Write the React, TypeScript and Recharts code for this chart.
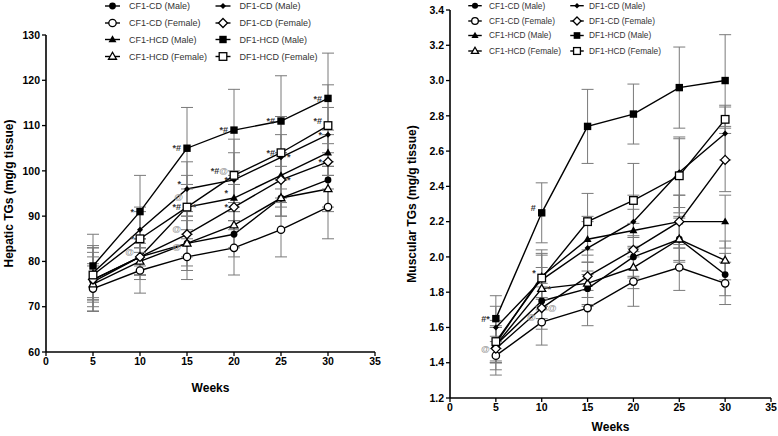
import React from 'react';
import { LineChart, Line, XAxis, YAxis, ErrorBar, Legend } from 'recharts';

const weeks = [5, 10, 15, 20, 25, 30];
const xTicks = [0, 5, 10, 15, 20, 25, 30, 35];
const hepaticTicks = [60, 70, 80, 90, 100, 110, 120, 130];
const muscularTicks = [1.2, 1.4, 1.6, 1.8, 2.0, 2.2, 2.4, 2.6, 2.8, 3.0, 3.2, 3.4];

const seriesNames = [
  'CF1-CD (Male)', 'CF1-CD (Female)', 'CF1-HCD (Male)', 'CF1-HCD (Female)',
  'DF1-CD (Male)', 'DF1-CD (Female)', 'DF1-HCD (Male)', 'DF1-HCD (Female)',
];
const seriesMarkers = [
  'circleFilled', 'circleOpen', 'triangleFilled', 'triangleOpen',
  'smallDiamond', 'diamondOpen', 'squareFilled', 'squareOpen',
];

// Hepatic TGs (mg/g tissue)
const hepCF1CDMale = [75.5, 81, 84, 86, 94, 98];
const hepCF1CDFemale = [74, 78, 81, 83, 87, 92];
const hepCF1HCDMale = [76, 81, 92, 94, 99, 104];
const hepCF1HCDFemale = [75, 80, 84, 88, 94, 96];
const hepDF1CDMale = [77.5, 87, 96, 98, 103, 108];
const hepDF1CDFemale = [76, 81, 86, 92, 98, 102];
const hepDF1HCDMale = [79, 91, 105, 109, 111, 116];
const hepDF1HCDFemale = [77, 85, 92, 99, 104, 110];

const hepErrCF1CDMale = [4, 4, 5, 5, 4, 6];
const hepErrCF1CDFemale = [5, 5, 5, 6, 6, 7];
const hepErrCF1HCDMale = [6, 4, 5, 5, 5, 5];
const hepErrCF1HCDFemale = [6, 4, 6, 5, 4, 5];
const hepErrDF1CDMale = [6, 5, 6, 6, 5, 6];
const hepErrDF1CDFemale = [7, 4, 5, 5, 6, 6];
const hepErrDF1HCDMale = [7, 8, 9, 9, 10, 10];
const hepErrDF1HCDFemale = [6, 6, 7, 8, 8, 9];

// Muscular TGs (mg/g tissue)
const musCF1CDMale = [1.5, 1.75, 1.82, 2.0, 2.1, 1.9];
const musCF1CDFemale = [1.44, 1.63, 1.71, 1.86, 1.94, 1.85];
const musCF1HCDMale = [1.51, 1.89, 2.1, 2.15, 2.2, 2.2];
const musCF1HCDFemale = [1.5, 1.82, 1.85, 1.94, 2.1, 1.98];
const musDF1CDMale = [1.6, 1.87, 2.05, 2.2, 2.48, 2.7];
const musDF1CDFemale = [1.48, 1.71, 1.89, 2.04, 2.2, 2.55];
const musDF1HCDMale = [1.65, 2.25, 2.74, 2.81, 2.96, 3.0];
const musDF1HCDFemale = [1.52, 1.88, 2.2, 2.32, 2.46, 2.78];

const musErrCF1CDMale = [0.1, 0.1, 0.1, 0.12, 0.12, 0.12];
const musErrCF1CDFemale = [0.11, 0.13, 0.1, 0.14, 0.13, 0.12];
const musErrCF1HCDMale = [0.1, 0.12, 0.13, 0.12, 0.15, 0.15];
const musErrCF1HCDFemale = [0.1, 0.12, 0.12, 0.12, 0.13, 0.11];
const musErrDF1CDMale = [0.12, 0.15, 0.15, 0.15, 0.2, 0.15];
const musErrDF1CDFemale = [0.12, 0.12, 0.12, 0.15, 0.15, 0.18];
const musErrDF1HCDMale = [0.13, 0.17, 0.21, 0.17, 0.23, 0.26];
const musErrDF1HCDFemale = [0.12, 0.16, 0.16, 0.21, 0.21, 0.08];

// significance marks: series index, week, text, side
const hepaticNotes = [
  { series: 6, week: 10, text: '*', side: 'L' },
  { series: 7, week: 10, text: '*', side: 'L' },
  { series: 2, week: 10, text: '@', side: 'UL' },
  { series: 6, week: 15, text: '*#', side: 'L' },
  { series: 4, week: 15, text: '*', side: 'UL' },
  { series: 7, week: 15, text: '*#', side: 'L' },
  { series: 7, week: 15, text: '@', side: 'UUL' },
  { series: 7, week: 15, text: '*', side: 'R' },
  { series: 5, week: 15, text: '@', side: 'UL' },
  { series: 3, week: 15, text: '@', side: 'DL' },
  { series: 6, week: 20, text: '*#', side: 'L' },
  { series: 7, week: 20, text: '*#@', side: 'UL' },
  { series: 4, week: 20, text: '*', side: 'L' },
  { series: 2, week: 20, text: '*', side: 'UL' },
  { series: 5, week: 20, text: '*', side: 'L' },
  { series: 6, week: 25, text: '*#', side: 'L' },
  { series: 7, week: 25, text: '*#', side: 'L' },
  { series: 4, week: 25, text: '*', side: 'R' },
  { series: 5, week: 25, text: '*', side: 'R' },
  { series: 6, week: 30, text: '*#', side: 'L' },
  { series: 7, week: 30, text: '*#', side: 'UL' },
  { series: 4, week: 30, text: '*', side: 'L' },
  { series: 5, week: 30, text: '*', side: 'L' },
];
const muscularNotes = [
  { series: 6, week: 5, text: '#*', side: 'L' },
  { series: 5, week: 5, text: '@', side: 'L' },
  { series: 6, week: 10, text: '#', side: 'UL' },
  { series: 7, week: 10, text: '*', side: 'UL' },
  { series: 3, week: 10, text: '*', side: 'R' },
  { series: 5, week: 10, text: '@', side: 'R' },
  { series: 1, week: 10, text: '@', side: 'UL' },
];

const hepSeries = [hepCF1CDMale, hepCF1CDFemale, hepCF1HCDMale, hepCF1HCDFemale, hepDF1CDMale, hepDF1CDFemale, hepDF1HCDMale, hepDF1HCDFemale];
const hepErrs = [hepErrCF1CDMale, hepErrCF1CDFemale, hepErrCF1HCDMale, hepErrCF1HCDFemale, hepErrDF1CDMale, hepErrDF1CDFemale, hepErrDF1HCDMale, hepErrDF1HCDFemale];
const musSeries = [musCF1CDMale, musCF1CDFemale, musCF1HCDMale, musCF1HCDFemale, musDF1CDMale, musDF1CDFemale, musDF1HCDMale, musDF1HCDFemale];
const musErrs = [musErrCF1CDMale, musErrCF1CDFemale, musErrCF1HCDMale, musErrCF1HCDFemale, musErrDF1CDMale, musErrDF1CDFemale, musErrDF1HCDMale, musErrDF1HCDFemale];

const buildRows = (series: number[][], errs: number[][]) =>
  weeks.map((w, i) => {
    const row: any = { week: w };
    series.forEach((s, k) => {
      row['s' + k] = s[i];
      row['e' + k] = errs[k][i];
    });
    return row;
  });

const hepRows = buildRows(hepSeries, hepErrs);
const musRows = buildRows(musSeries, musErrs);

const FONT = '"Liberation Sans", Arial, sans-serif';

function Marker({ cx, cy, kind, s = 1 }: { cx: number; cy: number; kind: string; s?: number }) {
  const sw = 1.3;
  switch (kind) {
    case 'circleFilled':
      return <circle cx={cx} cy={cy} r={3.4 * s} fill="#000" />;
    case 'circleOpen':
      return <circle cx={cx} cy={cy} r={3.7 * s} fill="#fff" stroke="#000" strokeWidth={sw} />;
    case 'triangleFilled':
    case 'triangleOpen': {
      const r = 4.2 * s;
      const pts = `${cx},${cy - r} ${cx + r * 0.95},${cy + r * 0.65} ${cx - r * 0.95},${cy + r * 0.65}`;
      return kind === 'triangleFilled'
        ? <polygon points={pts} fill="#000" />
        : <polygon points={pts} fill="#fff" stroke="#000" strokeWidth={sw} />;
    }
    case 'smallDiamond': {
      const r = 3 * s;
      return <polygon points={`${cx},${cy - r} ${cx + r},${cy} ${cx},${cy + r} ${cx - r},${cy}`} fill="#000" />;
    }
    case 'diamondOpen': {
      const r = 4.5 * s;
      return <polygon points={`${cx},${cy - r} ${cx + r},${cy} ${cx},${cy + r} ${cx - r},${cy}`} fill="#fff" stroke="#000" strokeWidth={sw} />;
    }
    case 'squareFilled': {
      const h = 3.7 * s;
      return <rect x={cx - h} y={cy - h} width={2 * h} height={2 * h} fill="#000" />;
    }
    case 'squareOpen': {
      const h = 3.8 * s;
      return <rect x={cx - h} y={cy - h} width={2 * h} height={2 * h} fill="#fff" stroke="#000" strokeWidth={sw} />;
    }
    default:
      return null;
  }
}

const noteDy: Record<string, number> = { L: 0, R: 0, UL: -5, UUL: -10, DL: 3 };

const makeDot = (kind: string, seriesIdx: number, notes: any[]) => (p: any) => {
  const { cx, cy, index } = p;
  if (cx == null || cy == null) return <g key={`d-${seriesIdx}-${index}`} />;
  const w = weeks[index];
  const mine = notes.filter((n) => n.series === seriesIdx && n.week === w);
  return (
    <g key={`d-${seriesIdx}-${index}`}>
      <Marker cx={cx} cy={cy} kind={kind} />
      {mine.map((n, k) => {
        const left = n.side !== 'R';
        const x = left ? cx - (n.side === 'UUL' ? 4 : 6) : cx + 6;
        const y = cy + (noteDy[n.side] || 0);
        return (
          <text key={k} x={x} y={y + 3.2} textAnchor={left ? 'end' : 'start'} fontFamily={FONT} fontSize={9} fontWeight="bold">
            {n.text.split('').map((c: string, j: number) => (
              <tspan key={j} fill={c === '@' ? '#9a9a9a' : '#333'}>{c}</tspan>
            ))}
          </text>
        );
      })}
    </g>
  );
};

const makeLegend = (cols: number[], textX: number[], rows: number[], fontSize: number, s: number, w: number) => () => (
  <svg width={w} height={70} style={{ position: 'absolute', left: 0, top: 0, overflow: 'visible' }}>
    {seriesNames.map((name, i) => {
      const col = Math.floor(i / 4);
      const row = i % 4;
      const cx = cols[col];
      const cy = rows[row];
      return (
        <g key={name}>
          <line x1={cx - 7.5 * s} x2={cx + 7.5 * s} y1={cy} y2={cy} stroke="#000" strokeWidth={1.4} />
          <Marker cx={cx} cy={cy} kind={seriesMarkers[i]} s={s} />
          <text x={textX[col]} y={cy + fontSize * 0.36} fontFamily={FONT} fontSize={fontSize} fill="#333">{name}</text>
        </g>
      );
    })}
  </svg>
);

const tickStyle = { fill: '#000', fontSize: 10.5, fontWeight: 'bold', fontFamily: FONT };

const yLabel = (text: string, xPos: number) => (props: any) => {
  const vb = props.viewBox || {};
  const cy = vb.y + vb.height / 2;
  return (
    <text x={xPos} y={cy} transform={`rotate(-90, ${xPos}, ${cy})`} textAnchor="middle" dominantBaseline="central" fontFamily={FONT} fontSize={12} fontWeight="bold" fill="#000">
      {text}
    </text>
  );
};
const xLabel = (text: string, dy: number) => (props: any) => {
  const vb = props.viewBox || {};
  const cx = vb.x + vb.width / 2;
  return (
    <text x={cx} y={vb.y + dy} textAnchor="middle" dominantBaseline="central" fontFamily={FONT} fontSize={12} fontWeight="bold" fill="#000">
      {text}
    </text>
  );
};

function Panel(props: {
  rows: any[]; width: number; margin: any; yWidth: number; xHeight: number; domain: number[]; ticks: number[];
  yFmt: (v: number) => string; yTitle: string; yTitleX: number; xTitleDy: number; notes: any[]; legend: () => any;
}) {
  return (
    <LineChart width={props.width} height={436} data={props.rows} margin={props.margin}>
      <XAxis
        dataKey="week" type="number" domain={[0, 35]} ticks={xTicks} allowDataOverflow
        height={props.xHeight} tickSize={4} tickLine={{ stroke: '#000', strokeWidth: 1.3 }}
        axisLine={{ stroke: '#000', strokeWidth: 1.6 }} tick={tickStyle} tickMargin={2}
        label={xLabel('Weeks', props.xTitleDy)}
      />
      <YAxis
        type="number" domain={props.domain} ticks={props.ticks} allowDataOverflow width={props.yWidth}
        tickSize={4} tickLine={{ stroke: '#000', strokeWidth: 1.3 }} axisLine={{ stroke: '#000', strokeWidth: 1.6 }}
        tick={tickStyle} tickFormatter={props.yFmt} tickMargin={2}
        label={yLabel(props.yTitle, props.yTitleX)}
      />
      <Legend content={props.legend} wrapperStyle={{ position: 'absolute', left: 0, top: 0, width: 0, height: 0 }} />
      {seriesNames.map((name, k) => (
        <Line
          key={name} name={name} dataKey={'s' + k} stroke="#000" strokeWidth={1.4}
          dot={makeDot(seriesMarkers[k], k, props.notes)} activeDot={false} isAnimationActive={false}
        >
          <ErrorBar dataKey={'e' + k} direction="y" width={6} stroke="#7a7a7a" strokeWidth={1} />
        </Line>
      ))}
    </LineChart>
  );
}

export default function App() {
  return (
    <div style={{ position: 'absolute', left: 0, top: 0, width: 778, height: 436, background: '#fff' }}>
      <div style={{ position: 'absolute', left: 0, top: 0 }}>
        <Panel
          rows={hepRows} width={390} margin={{ top: 35, right: 15, bottom: 0, left: 0 }} yWidth={46} xHeight={84}
          domain={[60, 130]} ticks={hepaticTicks} yFmt={(v) => String(v)} yTitle="Hepatic TGs (mg/g tissue)"
          yTitleX={8.5} xTitleDy={36} notes={hepaticNotes}
          legend={makeLegend([112.5, 223], [129, 239.5], [6, 23, 39.5, 56.5], 9, 1, 390)}
        />
      </div>
      <div style={{ position: 'absolute', left: 390, top: 0 }}>
        <Panel
          rows={musRows} width={388} margin={{ top: 10, right: 7, bottom: 0, left: 0 }} yWidth={60} xHeight={38}
          domain={[1.2, 3.4]} ticks={muscularTicks} yFmt={(v) => v.toFixed(1)} yTitle="Muscular TGs (mg/g tissue)"
          yTitleX={22} xTitleDy={29} notes={muscularNotes}
          legend={makeLegend([85, 187], [99, 199], [5.7, 21, 35.5, 51], 8.3, 0.9, 388)}
        />
      </div>
    </div>
  );
}
